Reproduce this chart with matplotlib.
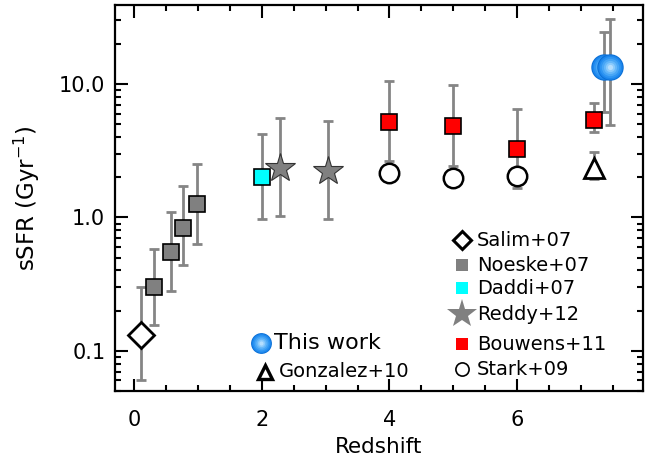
import numpy as np
import matplotlib
matplotlib.use("Agg")
import matplotlib.pyplot as plt
from matplotlib.ticker import FixedLocator, MultipleLocator, FixedFormatter

# data (redshift, sSFR [1/Gyr], error bar low/high)
salim_z = [0.1]
salim_s = [0.132]
salim_lo = [0.06]
salim_hi = [0.30]

noeske_z = [0.31, 0.57, 0.77, 0.98]
noeske_s = [0.30, 0.55, 0.84, 1.25]
noeske_lo = [0.155, 0.28, 0.44, 0.63]
noeske_hi = [0.58, 1.10, 1.72, 2.53]

daddi_z = [2.0]
daddi_s = [2.02]
daddi_lo = [0.97]
daddi_hi = [4.2]

reddy_z = [2.29, 3.03]
reddy_s = [2.36, 2.22]
reddy_lo = [1.02, 0.97]
reddy_hi = [5.55, 5.3]

bouwens_z = [4.0, 5.0, 6.0, 7.2]
bouwens_s = [5.2, 4.84, 3.24, 5.35]
bouwens_lo = [2.64, 2.43, 1.65, 4.36]
bouwens_hi = [10.6, 9.8, 6.5, 7.17]

stark_z = [4.0, 5.0, 6.0]
stark_s = [2.14, 1.99, 2.04]

gonzalez_z = [7.2]
gonzalez_s = [2.36]
gonzalez_lo = [1.93]
gonzalez_hi = [3.1]

this_z = [7.36, 7.46]
this_s = [13.3, 13.3]
this_lo = [6.17, 4.95]
this_hi = [24.6, 30.7]

ecol = '#858585'


def errbars(ax, z, s, lo, hi):
    s = np.array(s)
    yerr = [s - np.array(lo), np.array(hi) - s]
    ax.errorbar(z, s, yerr=yerr, fmt='none', ecolor=ecol, elinewidth=2,
                capsize=3.5, capthick=2, zorder=1)


def sphere(ax, x, y, size, transform=None):
    # fake a shaded ball with stacked markers
    kw = {} if transform is None else {'transform': transform}
    cols = ['#0a6fd6', '#1c86ec', '#2e95f2', '#48a6f6', '#66b8fa', '#8ccbfc', '#b5defe']
    fr = [1.0, 0.92, 0.8, 0.66, 0.5, 0.35, 0.2]
    for c, f in zip(cols, fr):
        ax.plot(x, y, 'o', ms=size * f, color=c, mec='none', zorder=5, **kw)


plt.rcParams['font.family'] = 'DejaVu Sans'
fig = plt.figure(figsize=(6.48, 4.63), dpi=100)
ax = fig.add_axes([0.1775, 0.1555, 0.8145, 0.8335])

errbars(ax, salim_z, salim_s, salim_lo, salim_hi)
errbars(ax, noeske_z, noeske_s, noeske_lo, noeske_hi)
errbars(ax, daddi_z, daddi_s, daddi_lo, daddi_hi)
errbars(ax, reddy_z, reddy_s, reddy_lo, reddy_hi)
errbars(ax, bouwens_z, bouwens_s, bouwens_lo, bouwens_hi)
errbars(ax, gonzalez_z, gonzalez_s, gonzalez_lo, gonzalez_hi)
errbars(ax, this_z, this_s, this_lo, this_hi)

ax.plot(salim_z, salim_s, 'D', ms=13.5, mfc='white', mec='black', mew=2, zorder=3)
ax.plot(noeske_z, noeske_s, 's', ms=11.5, mfc='#808080', mec='black', mew=1.2, zorder=3)
ax.plot(daddi_z, daddi_s, 's', ms=11.5, mfc='cyan', mec='black', mew=1.2, zorder=3)
ax.plot(reddy_z, reddy_s, '*', ms=22, mfc='#808080', mec='#333333', mew=0.8, zorder=3)
ax.plot(stark_z, stark_s, 'o', ms=14, mfc='white', mec='black', mew=1.8, zorder=3)
ax.plot(bouwens_z, bouwens_s, 's', ms=11.5, mfc='red', mec='black', mew=1.2, zorder=3)
ax.plot(gonzalez_z, gonzalez_s, '^', ms=15, mfc='white', mec='black', mew=2, zorder=3)
for x, y in zip(this_z, this_s):
    sphere(ax, x, y, 19)

ax.set_yscale('log')
ax.set_xlim(-0.3, 7.97)
ax.set_ylim(0.05, 39)

ax.xaxis.set_major_locator(MultipleLocator(2))
ax.xaxis.set_minor_locator(MultipleLocator(0.5))
ax.yaxis.set_major_locator(FixedLocator([0.1, 1, 10]))
ax.yaxis.set_major_formatter(FixedFormatter(['0.1', '1.0', '10.0']))
ax.tick_params(which='both', direction='in', top=True, right=True, width=1.5,
               labelsize=15, colors='black')
ax.tick_params(which='major', length=9)
ax.tick_params(which='minor', length=4.5)
ax.tick_params(axis='x', which='major', pad=14)
ax.tick_params(axis='y', which='major', pad=7)
for sp in ax.spines.values():
    sp.set_linewidth(1.6)

ax.set_xlabel('Redshift', fontsize=15.5, labelpad=5)
ax.set_ylabel('sSFR (Gyr$^{-1}$)', fontsize=16.5, labelpad=12)

# hand-made legend (axes fraction coordinates)
tr = ax.transAxes
sphere(ax, [0.276], [0.124], 15, transform=tr)
ax.text(0.301, 0.124, 'This work', fontsize=16, va='center', transform=tr)
ax.plot([0.284], [0.05], '^', ms=10, mfc='white', mec='black', mew=2.4, transform=tr)
ax.text(0.311, 0.05, 'Gonzalez+10', fontsize=14, va='center', transform=tr)

leg_y = [0.391, 0.326, 0.266, 0.199, 0.121, 0.057]
leg_lab = ['Salim+07', 'Noeske+07', 'Daddi+07', 'Reddy+12', 'Bouwens+11', 'Stark+09']
leg_mk = [
    dict(marker='D', ms=9, mfc='white', mec='black', mew=2.2),
    dict(marker='s', ms=9, mfc='#808080', mec='#808080', mew=0),
    dict(marker='s', ms=9, mfc='cyan', mec='cyan', mew=0),
    dict(marker='*', ms=22, mfc='#808080', mec='#808080', mew=0),
    dict(marker='s', ms=9, mfc='red', mec='red', mew=0),
    dict(marker='o', ms=9.5, mfc='white', mec='black', mew=1.2),
]
for y, lab, mk in zip(leg_y, leg_lab, leg_mk):
    ax.plot([0.658], [y], ls='none', transform=tr, **mk)
    ax.text(0.686, y, lab, fontsize=14, va='center', transform=tr)

fig.savefig('out.png', dpi=100)
